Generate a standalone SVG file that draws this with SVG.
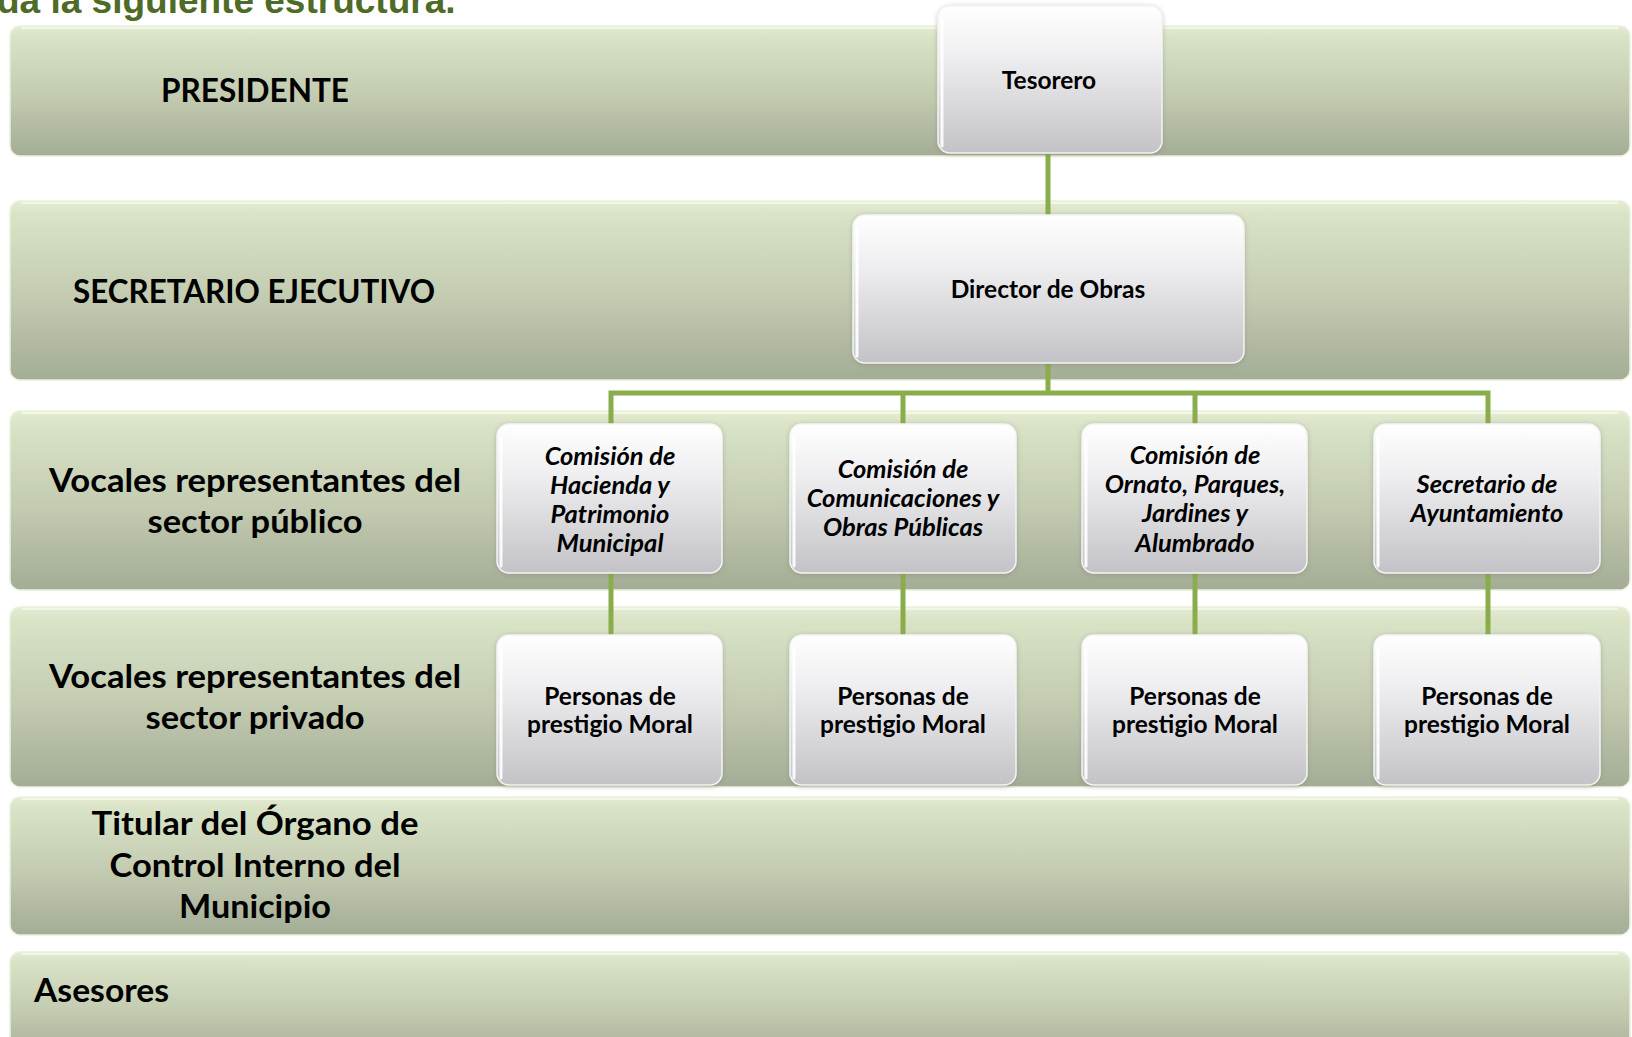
<svg xmlns="http://www.w3.org/2000/svg" width="1632" height="1037" viewBox="0 0 1632 1037">
<defs>
<linearGradient id="bandGrad" x1="0" y1="0" x2="0" y2="1">
<stop offset="0" stop-color="#e4ecd2"/>
<stop offset="0.08" stop-color="#d9e3c6"/>
<stop offset="0.55" stop-color="#c2cbb0"/>
<stop offset="1" stop-color="#a3ac95"/>
</linearGradient>
<linearGradient id="nodeGrad" x1="0" y1="0" x2="0" y2="1">
<stop offset="0" stop-color="#ffffff"/>
<stop offset="0.35" stop-color="#eeeef0"/>
<stop offset="1" stop-color="#c3c3c7"/>
</linearGradient>
<filter id="glow" x="-10%" y="-10%" width="120%" height="120%">
<feGaussianBlur in="SourceAlpha" stdDeviation="2.5"/>
<feOffset dx="0" dy="1" result="b"/>
<feFlood flood-color="#7c8070" flood-opacity="0.45"/>
<feComposite in2="b" operator="in"/>
<feMerge><feMergeNode/><feMergeNode in="SourceGraphic"/></feMerge>
</filter>
</defs>
<style>
.band{fill:url(#bandGrad);stroke:#eaf1dc;stroke-width:1.5}
.bhl{fill:none;stroke:#f2f7e8;stroke-width:2}
.node{fill:url(#nodeGrad);stroke:#f4f4f6;stroke-width:1.5;filter:url(#glow)}
.nhl{fill:none;stroke:#ffffff;stroke-width:3;stroke-linecap:round;opacity:0.9}
.lbl{font-family:Lato,"Open Sans",sans-serif;font-weight:700;font-size:33px;fill:#000;text-anchor:middle}
.nt{font-family:Lato,"Open Sans",sans-serif;font-weight:700;font-size:24.5px;fill:#000;text-anchor:middle}
.it{font-family:Lato,"Open Sans",sans-serif;font-weight:700;font-style:italic;font-size:25.5px;fill:#000;text-anchor:middle}
.conn{fill:none;stroke:#8aad4c;stroke-width:5}
.title{font-family:"Liberation Sans",Arial,sans-serif;font-weight:700;font-size:37px;fill:#4f6b28}
</style>
<rect width="1632" height="1037" fill="#ffffff"/>
<text class="title" x="-3" y="13">da la siguiente estructura.</text>

<g id="bands">
<g id="band-presidente">
<rect class="band" x="10" y="26" width="1620" height="130" rx="10"/>
<path class="bhl" d="M22 28 H1618"/>
<text class="lbl" x="255" y="102" textLength="188" lengthAdjust="spacingAndGlyphs">PRESIDENTE</text>
</g>
<g id="band-secretario">
<rect class="band" x="10" y="201" width="1620" height="179" rx="10"/>
<path class="bhl" d="M22 203 H1618"/>
<text class="lbl" x="254" y="303" textLength="362" lengthAdjust="spacingAndGlyphs">SECRETARIO EJECUTIVO</text>
</g>
<g id="band-publico">
<rect class="band" x="10" y="411" width="1620" height="179" rx="10"/>
<path class="bhl" d="M22 413 H1618"/>
<text class="lbl" x="255" y="492" textLength="412" lengthAdjust="spacingAndGlyphs">Vocales representantes del</text>
<text class="lbl" x="255" y="533" textLength="215" lengthAdjust="spacingAndGlyphs">sector público</text>
</g>
<g id="band-privado">
<rect class="band" x="10" y="607" width="1620" height="180" rx="10"/>
<path class="bhl" d="M22 609 H1618"/>
<text class="lbl" x="255" y="688" textLength="412" lengthAdjust="spacingAndGlyphs">Vocales representantes del</text>
<text class="lbl" x="255" y="729" textLength="219" lengthAdjust="spacingAndGlyphs">sector privado</text>
</g>
<g id="band-titular">
<rect class="band" x="10" y="797" width="1620" height="138" rx="10"/>
<path class="bhl" d="M22 799 H1618"/>
<text class="lbl" x="255" y="835" textLength="327" lengthAdjust="spacingAndGlyphs">Titular del Órgano de</text>
<text class="lbl" x="255" y="877" textLength="291" lengthAdjust="spacingAndGlyphs">Control Interno del</text>
<text class="lbl" x="255" y="918" textLength="152" lengthAdjust="spacingAndGlyphs">Municipio</text>
</g>
<g id="band-asesores">
<rect class="band" x="10" y="952" width="1620" height="110" rx="10"/>
<path class="bhl" d="M22 954 H1618"/>
<text class="lbl" x="34" y="1002" style="text-anchor:start" textLength="135" lengthAdjust="spacingAndGlyphs">Asesores</text>
</g>
</g>

<g id="connectors">
<path class="conn" d="M1048 153 V215"/>
<path class="conn" d="M1048 363 V393"/>
<path class="conn" d="M611 424 V393 H1488 V424"/>
<path class="conn" d="M903 393 V424"/>
<path class="conn" d="M1195 393 V424"/>
<path class="conn" d="M611 573 V635"/>
<path class="conn" d="M903 573 V635"/>
<path class="conn" d="M1195 573 V635"/>
<path class="conn" d="M1488 573 V635"/>
</g>

<g id="node-tesorero">
<rect class="node" x="938" y="6" width="224" height="147" rx="12"/>
<path class="nhl" d="M942 20 V146"/>
<text class="nt" x="1049" y="89">Tesorero</text>
</g>
<g id="node-director">
<rect class="node" x="853" y="215" width="391" height="148" rx="12"/>
<path class="nhl" d="M857 229 V356"/>
<text class="nt" x="1048" y="298">Director de Obras</text>
</g>

<g id="node-hacienda">
<rect class="node" x="497" y="424" width="225" height="149" rx="12"/>
<path class="nhl" d="M501 438 V566"/>
<text class="it" x="610" y="465">Comisión de</text>
<text class="it" x="610" y="494">Hacienda y</text>
<text class="it" x="610" y="523">Patrimonio</text>
<text class="it" x="610" y="552">Municipal</text>
</g>
<g id="node-comunicaciones">
<rect class="node" x="790" y="424" width="226" height="149" rx="12"/>
<path class="nhl" d="M794 438 V566"/>
<text class="it" x="903" y="478">Comisión de</text>
<text class="it" x="903" y="507">Comunicaciones y</text>
<text class="it" x="903" y="536">Obras Públicas</text>
</g>
<g id="node-ornato">
<rect class="node" x="1082" y="424" width="225" height="149" rx="12"/>
<path class="nhl" d="M1086 438 V566"/>
<text class="it" x="1195" y="464">Comisión de</text>
<text class="it" x="1195" y="493">Ornato, Parques,</text>
<text class="it" x="1195" y="522">Jardines y</text>
<text class="it" x="1195" y="552">Alumbrado</text>
</g>
<g id="node-secretario-ayto">
<rect class="node" x="1374" y="424" width="226" height="149" rx="12"/>
<path class="nhl" d="M1378 438 V566"/>
<text class="it" x="1487" y="493">Secretario de</text>
<text class="it" x="1487" y="522">Ayuntamiento</text>
</g>

<g id="node-personas-1">
<rect class="node" x="497" y="635" width="225" height="150" rx="12"/>
<path class="nhl" d="M501 649 V778"/>
<text class="nt" x="610" y="705">Personas de</text>
<text class="nt" x="610" y="733">prestigio Moral</text>
</g>
<g id="node-personas-2">
<rect class="node" x="790" y="635" width="226" height="150" rx="12"/>
<path class="nhl" d="M794 649 V778"/>
<text class="nt" x="903" y="705">Personas de</text>
<text class="nt" x="903" y="733">prestigio Moral</text>
</g>
<g id="node-personas-3">
<rect class="node" x="1082" y="635" width="225" height="150" rx="12"/>
<path class="nhl" d="M1086 649 V778"/>
<text class="nt" x="1195" y="705">Personas de</text>
<text class="nt" x="1195" y="733">prestigio Moral</text>
</g>
<g id="node-personas-4">
<rect class="node" x="1374" y="635" width="226" height="150" rx="12"/>
<path class="nhl" d="M1378 649 V778"/>
<text class="nt" x="1487" y="705">Personas de</text>
<text class="nt" x="1487" y="733">prestigio Moral</text>
</g>
</svg>
